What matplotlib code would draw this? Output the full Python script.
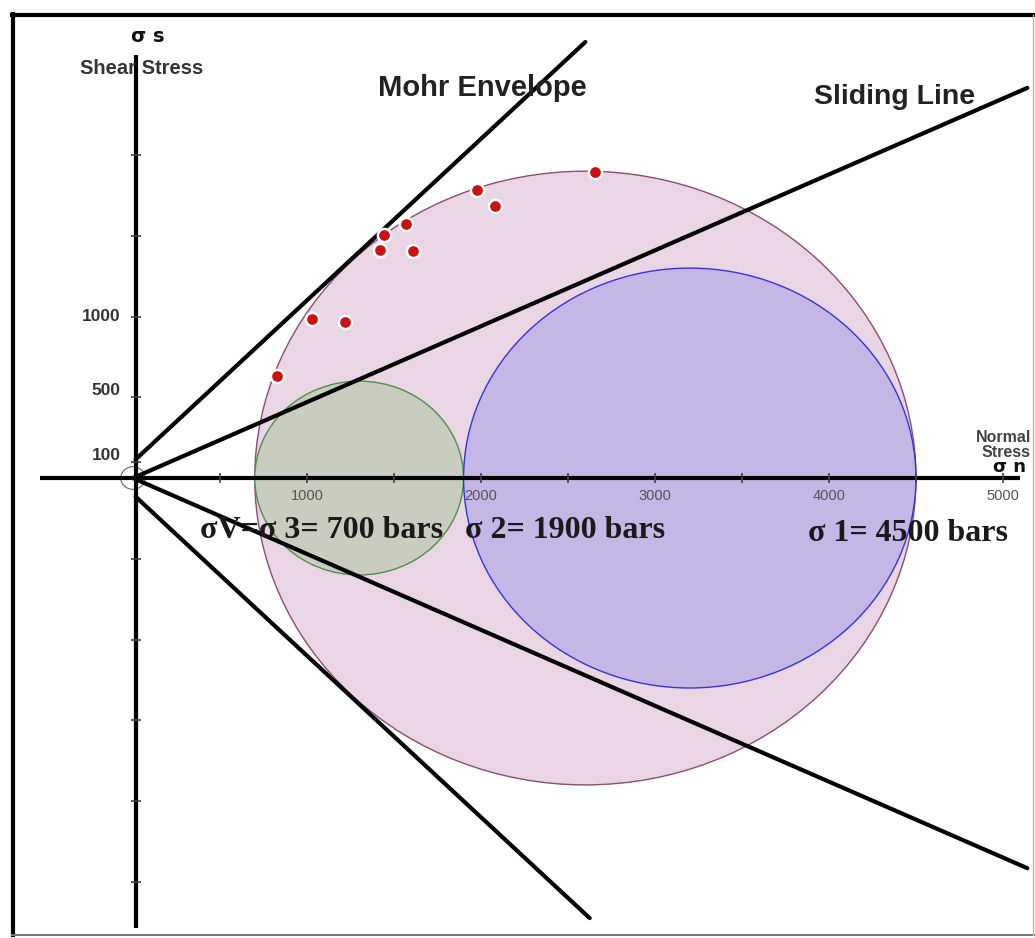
import matplotlib
matplotlib.use("Agg")
import matplotlib.pyplot as plt
from matplotlib.patches import Circle

# Principal stresses (bars)
sigma3 = 700
sigma2 = 1900
sigma1 = 4500

# Failure criteria: tau = cohesion + slope * sigma_n
mohr_cohesion = 100
mohr_slope = 1.0
sliding_slope = 0.47

# Measured stress states (normal, shear)
obs_normal = [830, 1030, 1220, 1440, 1420, 1570, 1610, 1980, 2080, 2655]
obs_shear = [630, 985, 965, 1505, 1410, 1575, 1405, 1785, 1685, 1895]

# Axis ticks
x_ticks = [500, 1000, 1500, 2000, 2500, 3000, 3500, 4000, 4500, 5000]
x_tick_labels = ["1000", "2000", "3000", "4000", "5000"]
y_ticks = [-2500, -2000, -1500, -1000, -500, 100, 500, 1000, 1500, 2000]
y_tick_labels = ["100", "500", "1000"]

W, H = 1035, 938
fig = plt.figure(figsize=(W / 100, H / 100), dpi=100)
ax = fig.add_axes([0, 0, 1, 1])
ax.set_xlim(-764, 5184)
ax.set_ylim(-2848, 2960)
ax.axis("off")


def fx(x, y):
    return x / W, 1 - y / H


# Mohr circles
big = Circle(((sigma1 + sigma3) / 2, 0), (sigma1 - sigma3) / 2,
             facecolor="#e9d5e3", edgecolor="#8a4f72", lw=1.0, zorder=1)
small = Circle(((sigma2 + sigma3) / 2, 0), (sigma2 - sigma3) / 2,
               facecolor="#c9cdbf", edgecolor="#4f8f4f", lw=1.0, zorder=2)
mid = Circle(((sigma1 + sigma2) / 2, 0), (sigma1 - sigma2) / 2,
             facecolor="#c5b7e5", edgecolor="#3535d5", lw=1.0, zorder=3)
for c in (big, small, mid):
    ax.add_patch(c)
ax.add_patch(Circle((0, 0), 70, facecolor="none", edgecolor="#666666",
                    lw=0.8, zorder=4))

# Coordinate axes
ax.plot([-534, 5098], [0, 0], color="black", lw=3, zorder=5,
        solid_capstyle="butt")
ax.plot([15, 15], [-2786, 2619], color="black", lw=3, zorder=5,
        solid_capstyle="butt")
ax.plot(x_ticks, [0] * len(x_ticks), ls="none", marker="|", ms=7,
        mew=1.2, color="#444444", zorder=6)
ax.plot([15] * len(y_ticks), y_ticks, ls="none", marker="_", ms=7,
        mew=1.2, color="#444444", zorder=6)

# Envelope lines (upper and mirrored lower)
xm = 2600
ax.plot([15, xm], [mohr_cohesion + mohr_slope * 15,
                   mohr_cohesion + mohr_slope * xm],
        color="black", lw=3, zorder=7, solid_capstyle="round")
ax.plot([15, xm + 25], [-mohr_cohesion - mohr_slope * 15,
                        -mohr_cohesion - mohr_slope * (xm + 25)],
        color="black", lw=3, zorder=7, solid_capstyle="round")
xs = 5140
ax.plot([0, xs], [0, sliding_slope * xs], color="black", lw=3, zorder=7,
        solid_capstyle="round")
ax.plot([0, xs], [0, -sliding_slope * xs], color="black", lw=3, zorder=7,
        solid_capstyle="round")

# Observations
ax.plot(obs_normal, obs_shear, ls="none", marker="o", ms=9.5,
        markerfacecolor="#cc1111", markeredgecolor="white", mew=1.8,
        zorder=8)

# Tick labels
for v, lab in zip([1000, 2000, 3000, 4000, 5000], x_tick_labels):
    ax.text(v, -70, lab, ha="center", va="top", fontsize=10.5,
            color="#555555", family="Liberation Sans", zorder=9)
for v, lab in zip([100, 500, 1000], y_tick_labels):
    off = 40 if v < 1000 else 0
    ax.text(-70, v + off, lab, ha="right", va="center", fontsize=12.5,
            fontweight="bold", color="#333333", family="Liberation Sans",
            zorder=9)

sans = "Liberation Sans"
serif = "Liberation Serif"
fig.text(*fx(148, 37), "σ s", ha="center", va="center", fontsize=14,
         fontweight="bold", color="#111111", family="DejaVu Sans")
fig.text(*fx(142, 69), "Shear Stress", ha="center", va="center",
         fontsize=14.5, fontweight="bold", color="#333333", family=sans)
fig.text(*fx(482, 88), "Mohr Envelope", ha="center", va="center",
         fontsize=21, fontweight="bold", color="#222222", family=sans)
fig.text(*fx(895, 97), "Sliding Line", ha="center", va="center",
         fontsize=20.5, fontweight="bold", color="#222222", family=sans)
fig.text(*fx(1031, 445), "Normal\nStress", ha="right", va="center",
         fontsize=11.5, fontweight="bold", color="#444444", family=sans,
         linespacing=0.95, multialignment="right")
fig.text(*fx(1026, 467), "σ n", ha="right", va="center", fontsize=13,
         fontweight="bold", color="#111111", family="DejaVu Sans")

fig.text(*fx(200, 531), f"σV=σ 3= {sigma3} bars", ha="left", va="center",
         fontsize=23, fontweight="bold", color="#1a1a1a", family=serif)
fig.text(*fx(465, 531), f"σ 2= {sigma2} bars", ha="left", va="center",
         fontsize=23, fontweight="bold", color="#1a1a1a", family=serif)
fig.text(*fx(808, 533), f"σ 1= {sigma1} bars", ha="left", va="center",
         fontsize=23, fontweight="bold", color="#1a1a1a", family=serif)

# Frame
frame_kw = dict(transform=fig.transFigure, clip_on=False)
fig.add_artist(plt.Line2D([13 / W, 13 / W], [1 - 14 / H, 1 - 935 / H],
                          color="black", lw=3, **frame_kw))
fig.add_artist(plt.Line2D([12 / W, 1034 / W], [1 - 15 / H, 1 - 15 / H],
                          color="black", lw=3, **frame_kw))
fig.add_artist(plt.Line2D([12 / W, 1034 / W], [1 - 935 / H, 1 - 935 / H],
                          color="#777777", lw=1.5, **frame_kw))
fig.add_artist(plt.Line2D([1033 / W, 1033 / W], [1 - 15 / H, 1 - 935 / H],
                          color="#bbbbbb", lw=1.0, **frame_kw))

fig.savefig("out.png", dpi=100)
